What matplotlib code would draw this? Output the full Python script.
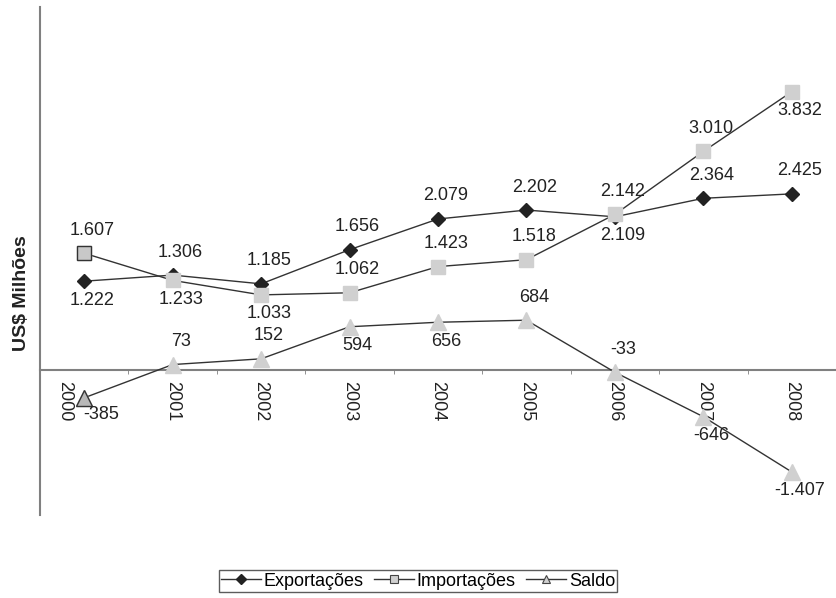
import matplotlib.pyplot as plt
import matplotlib.transforms as mtransforms
from matplotlib.lines import Line2D

anos = ['2000', '2001', '2002', '2003', '2004', '2005', '2006', '2007', '2008']
exportacoes = [1222, 1306, 1185, 1656, 2079, 2202, 2109, 2364, 2425]
importacoes = [1607, 1233, 1033, 1062, 1423, 1518, 2142, 3010, 3832]
saldo = [-385, 73, 152, 594, 656, 684, -33, -646, -1407]

# label placement: +1 above the marker, -1 below
pos_exp = [-1, 1, 1, 1, 1, 1, -1, 1, 1]
pos_imp = [1, -1, -1, 1, 1, 1, 1, 1, -1]
pos_sal = [-1, 1, 1, -1, -1, 1, 1, -1, -1]

plt.rcParams['font.family'] = ['Liberation Sans', 'DejaVu Sans']

fig = plt.figure(figsize=(8.36, 5.98), dpi=100)
W, H = 836, 598
ax = fig.add_axes([40 / W, (H - 515) / H, (W - 40) / W, 508 / H])

x = list(range(len(anos)))
linha = '#333333'
cinza = '#d0d0d0'

ax.plot(x, exportacoes, color=linha, lw=1, marker='D', ms=7, mfc='#222222', mec='#222222', zorder=3)
ax.plot(x, importacoes, color=linha, lw=1, marker='s', ms=10, mfc=cinza, mec=cinza, zorder=3)
ax.plot(x, saldo, color=linha, lw=1, marker='^', ms=11, mfc=cinza, mec=cinza, zorder=3)
# first points drawn with a dark edge
ax.plot(x[0], importacoes[0], marker='s', ms=10, mfc='#c8c8c8', mec='#333333', mew=1, zorder=4)
ax.plot(x[0], saldo[0], marker='^', ms=11, mfc='#b8b8b8', mec='#333333', mew=1, zorder=4)


def fmt(v):
    return f"{v:,}".replace(",", ".")


def rotular(vals, pos, dx=8, up=23, down=19):
    for xi, v, p in zip(x, vals, pos):
        dy = up if p > 0 else -down
        ddx = dx
        if xi == 0 and v < 0:
            ddx, dy = 17, -17
        ax.annotate(fmt(v), (xi, v), xytext=(ddx, dy), textcoords='offset pixels',
                    ha='center', va='center', fontsize=13, color='#222222', zorder=5)


rotular(exportacoes, pos_exp)
rotular(importacoes, pos_imp)
rotular(saldo, pos_sal)

ax.set_xlim(-0.5, (W - 85) / 89.2)
ax.set_ylim(-2000, 5000)

for s in ['top', 'right']:
    ax.spines[s].set_visible(False)
ax.spines['left'].set_color('#808080')
ax.spines['left'].set_linewidth(1.5)
ax.spines['bottom'].set_position(('data', 0))
ax.spines['bottom'].set_color('#808080')
ax.spines['bottom'].set_linewidth(1.5)

ax.set_yticks([])
ax.set_xticks(x)
ax.set_xticklabels(anos, rotation=270, fontsize=13, color='#222222')
ax.set_xticks([i + 0.5 for i in x], minor=True)
ax.tick_params(axis='x', which='major', length=0, pad=8)
ax.tick_params(axis='x', which='minor', length=3, color='#808080', direction='out')

# first year label sits left of its marker, as in the original
lbl0 = ax.get_xticklabels()[0]
lbl0.set_transform(lbl0.get_transform() + mtransforms.ScaledTranslation(-0.2, 0, fig.dpi_scale_trans))

fig.text(22 / W, 1 - 293 / H, 'US$ Milhões', rotation=90, ha='center', va='center',
         fontsize=14, fontweight='bold', color='#222222')

handles = [
    Line2D([], [], color=linha, lw=1, marker='D', ms=5, mfc='#222222', mec='#222222'),
    Line2D([], [], color=linha, lw=1, marker='s', ms=6, mfc=cinza, mec='#444444', mew=0.8),
    Line2D([], [], color=linha, lw=1, marker='^', ms=6, mfc=cinza, mec='#444444', mew=0.8),
]
leg = fig.legend(handles, ['Exportações', 'Importações', 'Saldo'], loc='center',
                 bbox_to_anchor=(418 / W, 1 - 581 / H), ncol=3, fontsize=13,
                 frameon=True, fancybox=False, handlelength=2.2, handletextpad=0.15,
                 columnspacing=0.6, borderpad=0.12, borderaxespad=0)
leg.get_frame().set_edgecolor('#333333')
leg.get_frame().set_linewidth(1)

fig.savefig('out.png', dpi=100)
